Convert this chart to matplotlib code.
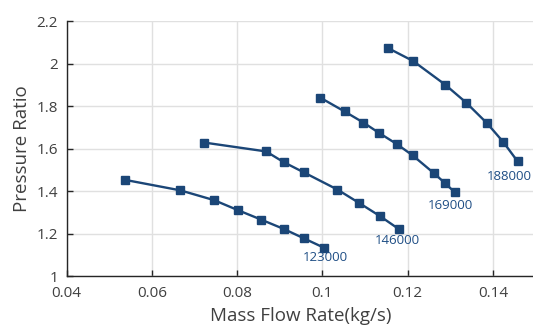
import matplotlib
matplotlib.use("Agg")
import matplotlib.pyplot as plt

plt.rcParams['font.family'] = ['Open Sans', 'DejaVu Sans']

# speed lines (rpm) -> mass flow rate / pressure ratio
speeds = ["123000", "146000", "169000", "188000"]

flow_123 = [0.0538, 0.0667, 0.0746, 0.0803, 0.0857, 0.0910, 0.0957, 0.1004]
pr_123 = [1.454, 1.405, 1.359, 1.311, 1.267, 1.223, 1.179, 1.135]

flow_146 = [0.0722, 0.0868, 0.0909, 0.0957, 0.1035, 0.1086, 0.1135, 0.1180]
pr_146 = [1.630, 1.588, 1.538, 1.489, 1.409, 1.346, 1.284, 1.222]

flow_169 = [0.0995, 0.1052, 0.1096, 0.1133, 0.1175, 0.1212, 0.1262, 0.1287, 0.1311]
pr_169 = [1.841, 1.776, 1.724, 1.675, 1.622, 1.569, 1.485, 1.440, 1.395]

flow_188 = [0.1155, 0.1213, 0.1288, 0.1337, 0.1386, 0.1424, 0.1458]
pr_188 = [2.073, 2.013, 1.902, 1.818, 1.721, 1.633, 1.541]

# where each speed label sits (left edge, centre)
label_x = [0.0954, 0.1123, 0.1248, 0.1386]
label_y = [1.088, 1.170, 1.334, 1.472]

line_color = "#1b4677"
text_color = "#1f4e85"

fig = plt.figure(figsize=(5.33, 3.31), dpi=100)
ax = fig.add_axes([0.1248, 0.1647, 0.880, 0.771])

for fx, py in [(flow_123, pr_123), (flow_146, pr_146), (flow_169, pr_169), (flow_188, pr_188)]:
    ax.plot(fx, py, color=line_color, lw=1.7, marker="s", markersize=5.5,
            markerfacecolor=line_color, markeredgecolor=line_color)

for s, lx, ly in zip(speeds, label_x, label_y):
    ax.text(lx, ly, s, color=text_color, fontsize=9.5, ha="left", va="center")

ax.set_xlim(0.04, 0.15)
ax.set_ylim(1.0, 2.2)
ax.set_xticks([0.04, 0.06, 0.08, 0.1, 0.12, 0.14])
ax.set_xticklabels(["0.04", "0.06", "0.08", "0.1", "0.12", "0.14"])
ax.set_yticks([1.0, 1.2, 1.4, 1.6, 1.8, 2.0, 2.2])
ax.set_yticklabels(["1", "1.2", "1.4", "1.6", "1.8", "2", "2.2"])

ax.grid(True, color="#e0e0e0", lw=1)
ax.set_axisbelow(True)
for side in ["top", "right"]:
    ax.spines[side].set_visible(False)
for side in ["left", "bottom"]:
    ax.spines[side].set_color("#262626")
    ax.spines[side].set_linewidth(1.0)

ax.tick_params(direction="in", length=4, width=1, color="#262626",
               labelsize=11, labelcolor="#404040")
ax.tick_params(axis="x", pad=7)
ax.tick_params(axis="y", pad=6)

ax.set_xlabel("Mass Flow Rate(kg/s)", fontsize=13.5, color="#404040", labelpad=4)
ax.set_ylabel("Pressure Ratio", fontsize=13.5, color="#404040", labelpad=4)

fig.savefig("out.png", dpi=100)
